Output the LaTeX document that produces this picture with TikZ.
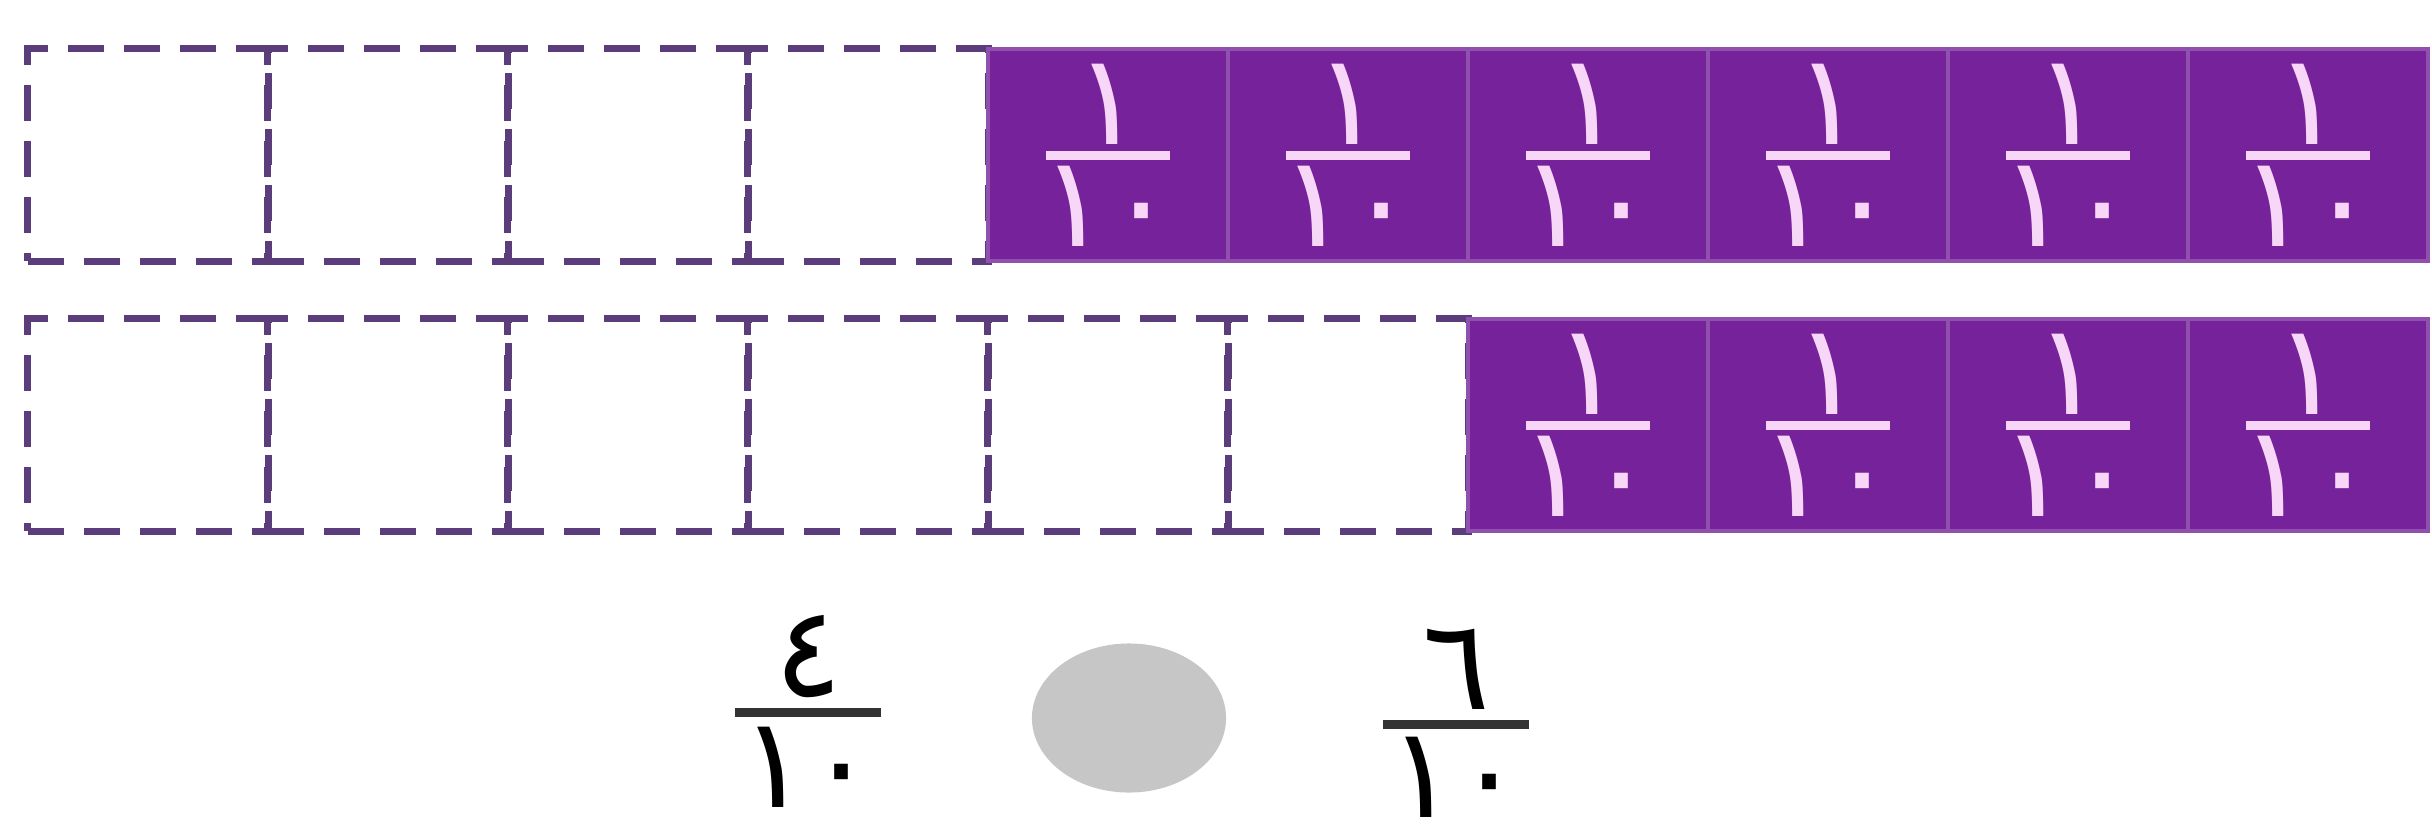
\documentclass[tikz,border=0pt]{standalone}
\usepackage{fontspec}
\newfontfamily\arabicfont[Script=Arabic]{DejaVu Sans}
\usetikzlibrary{positioning,shapes.geometric}
\definecolor{plum}{HTML}{76229A}
\definecolor{plumedge}{HTML}{9050AE}
\definecolor{dashline}{HTML}{5B3D7C}
\definecolor{pinktext}{HTML}{F7D6F7}
\definecolor{ovalgray}{HTML}{C6C6C6}

\begin{document}
\begin{tikzpicture}[x=0.01cm,y=-0.01cm,
  emptycell/.style={rectangle,draw=dashline,line width=0.07cm,dash pattern=on 0.36cm off 0.2cm,minimum width=2.4cm,minimum height=2.12cm,inner sep=0pt},
  fullcell/.style={rectangle,fill=plum,draw=plumedge,line width=0.04cm,minimum width=2.4cm,minimum height=2.12cm,inner sep=0pt},
  digit/.style={font=\arabicfont\fontsize{36}{38}\selectfont,inner sep=0pt},
  bar/.style={line width=0.09cm}]
\useasboundingbox (0,0) rectangle (2432,827);
\fill[white] (0,0) rectangle (2432,827);
% top strip: four empty, six tenths
\foreach \i in {1,...,10}{
  \ifnum\i<5
    \node[emptycell] (t\i) at (28+240*\i-120,155) {};
  \else
    \node[fullcell] (t\i) at (28+240*\i-120,155) {};
    \node[digit,text=pinktext,anchor=south] (tn\i) at ([yshift=0.1cm]t\i.center) {١};
    \node[digit,text=pinktext,anchor=north] (td\i) at ([yshift=-0.1cm]t\i.center) {١٠};
    \draw[bar,pinktext] ([xshift=-0.62cm]t\i.center) -- ([xshift=0.62cm]t\i.center);
  \fi
}
% bottom strip: six empty, four tenths
\foreach \i in {1,...,10}{
  \ifnum\i<7
    \node[emptycell] (b\i) at (28+240*\i-120,425) {};
  \else
    \node[fullcell] (b\i) at (28+240*\i-120,425) {};
    \node[digit,text=pinktext,anchor=south] (bn\i) at ([yshift=0.1cm]b\i.center) {١};
    \node[digit,text=pinktext,anchor=north] (bd\i) at ([yshift=-0.1cm]b\i.center) {١٠};
    \draw[bar,pinktext] ([xshift=-0.62cm]b\i.center) -- ([xshift=0.62cm]b\i.center);
  \fi
}
% comparison
\coordinate (lf) at (808,712);
\node[digit,anchor=south] (lnum) at ([yshift=0.14cm]lf) {٤};
\node[digit,anchor=north] (lden) at ([yshift=-0.14cm]lf) {١٠};
\draw[bar,black!80] ([xshift=-0.73cm]lf) -- ([xshift=0.73cm]lf);
\node[ellipse,fill=ovalgray,minimum width=1.94cm,minimum height=1.49cm,inner sep=0pt] (oval) at (1129,718) {};
\coordinate (rf) at (1456,724);
\node[digit,anchor=south] (rnum) at ([yshift=0.14cm]rf) {٦};
\node[digit,anchor=north] (rden) at ([yshift=-0.12cm]rf) {١٠};
\draw[bar,black!80] ([xshift=-0.73cm]rf) -- ([xshift=0.73cm]rf);
\end{tikzpicture}
\end{document}
